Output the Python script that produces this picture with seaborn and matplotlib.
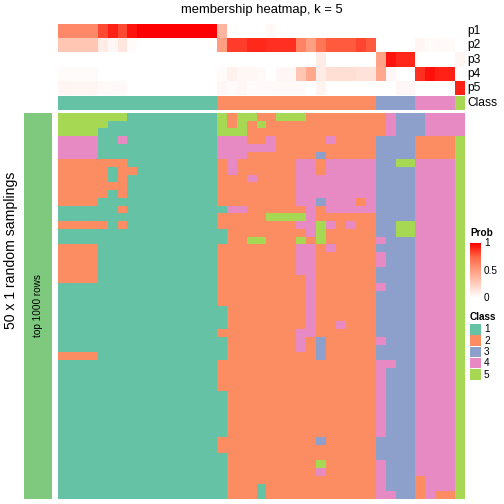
import numpy as np
import matplotlib
matplotlib.use('Agg')
import matplotlib.pyplot as plt
from matplotlib.colors import ListedColormap, LinearSegmentedColormap
from matplotlib.patches import Rectangle
import seaborn as sns

plt.rcParams['font.family'] = ['Liberation Sans', 'DejaVu Sans']

# class colours (Set2) and the left annotation colour
class_names = ['1', '2', '3', '4', '5']
class_colors = ['#66C2A5', '#FC8D62', '#8DA0CB', '#E78AC3', '#A6D854']
sampling_color = '#7FC97F'

# consensus class of every column
col_class = [1, 1, 1, 1, 1, 1, 1, 1, 1, 1, 1, 1, 1, 1, 1, 1,
             2, 2, 2, 2, 2, 2, 2, 2, 2, 2, 2, 2, 2, 2, 2, 2,
             3, 3, 3, 3, 4, 4, 4, 4, 5]

# membership probabilities p1..p5 for each column
p1 = [0.60, 0.60, 0.60, 0.60, 0.82, 0.92, 0.82, 0.95, 1, 1, 1, 1, 1, 1, 1, 1,
      0.38, 0, 0, 0, 0, 0.03, 0, 0, 0, 0, 0, 0, 0, 0, 0, 0,
      0, 0, 0, 0, 0, 0, 0, 0, 0]
p2 = [0.30, 0.30, 0.30, 0.30, 0.10, 0.04, 0.13, 0.02, 0, 0, 0, 0, 0, 0, 0, 0,
      0.50, 0.85, 0.85, 0.90, 0.90, 0.88, 0.88, 0.88, 0.62, 0.50, 0.68, 0.78, 0.78, 0.78, 0.83, 0.78,
      0, 0, 0, 0, 0.05, 0.02, 0.03, 0.03, 0]
p3 = [0, 0, 0, 0, 0, 0, 0, 0, 0, 0, 0, 0, 0, 0, 0, 0,
      0, 0, 0, 0, 0, 0, 0, 0, 0, 0, 0.10, 0, 0, 0, 0, 0,
      0.48, 0.95, 0.90, 0.90, 0, 0, 0, 0, 0.05]
p4 = [0.02, 0.02, 0.02, 0.02, 0, 0, 0, 0, 0, 0, 0, 0, 0, 0, 0, 0,
      0.02, 0.07, 0.04, 0.04, 0.03, 0, 0.04, 0.04, 0.30, 0.45, 0.10, 0.17, 0.17, 0.17, 0.15, 0.15,
      0.45, 0.04, 0, 0, 0.88, 0.96, 0.92, 0.92, 0]
p5 = [0.05, 0.05, 0.05, 0.05, 0.03, 0.03, 0.03, 0, 0, 0, 0, 0, 0, 0, 0, 0,
      0.04, 0.02, 0.04, 0.02, 0.03, 0.03, 0.03, 0.03, 0.03, 0, 0.06, 0, 0, 0, 0, 0,
      0, 0, 0.04, 0.04, 0, 0, 0, 0, 0.92]
prob_labels = ['p1', 'p2', 'p3', 'p4', 'p5']

# class assigned in each of the 50 random samplings (one string per row)
membership = [
    "55555551111111115255225552222222243334444" ,
    "55555111111111115252522222222222243334444" ,
    "55551111111111115552222222222222243334444" ,
    "44441141111111114442242222242222333322225" ,
    "44441111111111114444442222222222333322225" ,
    "44441111111111114442222222322222333322225" ,
    "22222221111111112422222244244444335544445" ,
    "22222122111111112422222244244444333344445" ,
    "22222121111111112224222244444444333344445" ,
    "22222221111111112222222244444444333344445" ,
    "22222121111111112222222244444444333344445" ,
    "22221111111111112222222244344424333344445" ,
    "11111121111111111442222224244444333344445" ,
    "11111111111111112222255554222222333344445" ,
    "22222121111111112222222244542422335544445" ,
    "11111111111111111222222224522222335544445" ,
    "11111111111111111225522252522222433344445" ,
    "22221111111111112222222244242222333344445" ,
    "22221111111111112222222244222222433344445" ,
    "22221111111111112222222244222222433344445" ,
    "22221111111111112222222244222222333344445" ,
    "22221111111111112222222224222222333344445" ,
    "11111111111111112222222224222222433344445" ,
    "11111111111111112222222224222222333344445" ,
    "11111111111111112222222224222222333344445" ,
    "11111111111111111222222224222222333344445" ,
    "11111111111111111222222224222222333344445" ,
    "11111111111111111222222224224222333344445" ,
    "11111111111111112222222244222222333344445" ,
    "11111111111111111222222242322222433344445" ,
    "11111111111111111222222242322222333344445" ,
    "22221111111111111222222222322222333344445" ,
    "11111111111111112222222222222222443344445" ,
    "11111111111111112222222222222222433344445" ,
    "11111111111111112222222222222222433344445" ,
    "11111111111111112222222222222222433344445" ,
    "11111111111111111222222222222222433344445" ,
    "11111111111111111222222222222222433344445" ,
    "11111111111111111222222222222222433344445" ,
    "11111111111111111222222222222222433344445" ,
    "11111111111111111222222222222222433344445" ,
    "11111111111111111222222222222222433344445" ,
    "11111111111111112222222222322222333344445" ,
    "11111111111111112222222222222222333344445" ,
    "11111111111111111222222222222222333344445" ,
    "11111111111111111222222222522222433344445" ,
    "11111111111111111222222222422222433344445" ,
    "11111111111111111222222222222222433324445" ,
    "11111111111111111222122222222222433324445" ,
    "11111111111111111222122222222222443324225" ,
]

member_mat = np.array([[int(ch) for ch in row] for row in membership])
prob_mat = np.array([p1, p2, p3, p4, p5])
class_mat = np.array([col_class])

# white -> red ramp interpolated in LAB space like colorRamp2
prob_cmap = LinearSegmentedColormap.from_list(
    'prob', [(0, '#FFFFFF'), (0.25, '#FFCFBF'), (0.5, '#FF9E81'), (0.75, '#FF6746'), (1, '#FF0000')])
class_cmap = ListedColormap(class_colors)

W = 504.0


def box(x0, y0, x1, y1):
    # pixel box (top-left origin) -> figure fraction rect
    return [x0 / W, 1 - y1 / W, (x1 - x0) / W, (y1 - y0) / W]


fig = plt.figure(figsize=(7, 7), dpi=72)

ax_prob = fig.add_axes(box(58, 24, 465, 95))
sns.heatmap(prob_mat, cmap=prob_cmap, vmin=0, vmax=1, cbar=False,
            xticklabels=False, yticklabels=False, ax=ax_prob)

ax_cls = fig.add_axes(box(58, 96, 465, 110))
sns.heatmap(class_mat, cmap=class_cmap, vmin=0.5, vmax=5.5, cbar=False,
            xticklabels=False, yticklabels=False, ax=ax_cls)

ax_main = fig.add_axes(box(58, 113, 465, 499))
sns.heatmap(member_mat, cmap=class_cmap, vmin=0.5, vmax=5.5, cbar=False,
            xticklabels=False, yticklabels=False, ax=ax_main)

ax_left = fig.add_axes(box(24, 113, 52, 499))
sns.heatmap(np.ones((1, 1)), cmap=ListedColormap([sampling_color]), cbar=False,
            xticklabels=False, yticklabels=False, ax=ax_left)
ax_left.text(0.5, 0.5, 'top 1000 rows', rotation=90, ha='center', va='center',
             fontsize=10, transform=ax_left.transAxes)

# overlay in pixel coordinates for titles and legends
ov = fig.add_axes([0, 0, 1, 1])
ov.set_xlim(0, W)
ov.set_ylim(W, 0)
ov.axis('off')

ov.text(262, 10, 'membership heatmap, k = 5', ha='center', va='center', fontsize=13)
ov.text(11, 250, '50 x 1 random samplings', rotation=90, ha='center', va='center', fontsize=14)

row_h = (95 - 24) / 5.0
for i, lab in enumerate(prob_labels):
    ov.text(467, 24 + row_h * (i + 0.5), lab, ha='left', va='center', fontsize=12)
ov.text(467, 103, 'Class', ha='left', va='center', fontsize=12)

# Prob colour bar legend
ov.text(470, 233, 'Prob', ha='left', va='center', fontsize=10, fontweight='bold')
ax_bar = fig.add_axes(box(470, 243, 481, 298))
ax_bar.imshow(np.linspace(1, 0, 200)[:, None], cmap=prob_cmap, aspect='auto', vmin=0, vmax=1)
ax_bar.axis('off')
for val, lab in [(1, '1'), (0.5, '0.5'), (0, '0')]:
    yy = 298 - val * 55
    ov.plot([470, 472], [yy, yy], color='white', lw=0.8)
    ov.plot([479, 481], [yy, yy], color='white', lw=0.8)
    ov.text(484, yy, lab, ha='left', va='center', fontsize=10)

# Class legend
ov.text(470, 317, 'Class', ha='left', va='center', fontsize=10, fontweight='bold')
for i, (name, col) in enumerate(zip(class_names, class_colors)):
    y0 = 324 + i * 11.3
    ov.add_patch(Rectangle((470, y0), 11, 10.5, facecolor=col, edgecolor='none'))
    ov.text(484, y0 + 5.5, name, ha='left', va='center', fontsize=10)

fig.savefig('out.png', dpi=72)
